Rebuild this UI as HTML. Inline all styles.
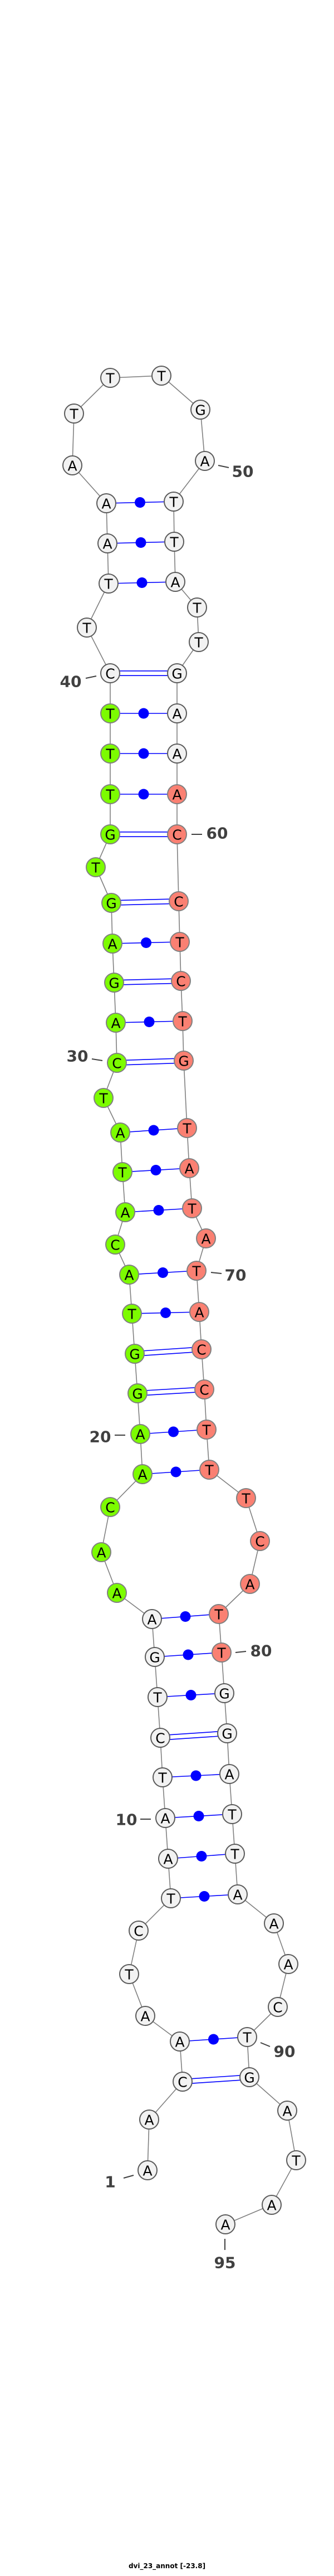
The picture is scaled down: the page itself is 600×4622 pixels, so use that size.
<!DOCTYPE html>
<html><head><meta charset="utf-8"><style>
html,body{margin:0;padding:0;background:#fff}
svg{display:block}
.bb{stroke:#808080;stroke-width:1.6;fill:none}
.bp{stroke:#0000ff;stroke-width:1.6;fill:none}
.n text{font-family:"DejaVu Sans","Liberation Sans",sans-serif;font-size:25px;text-anchor:middle;dominant-baseline:central;fill:#000}
.lab{font-family:"DejaVu Sans","Liberation Sans",sans-serif;font-weight:bold;font-size:28px;fill:#404040;text-anchor:middle;dominant-baseline:central}
.tk{stroke:#404040;stroke-width:2}
</style></head><body>
<svg id="s" width="600" height="4622" viewBox="0 0 600 4622" xmlns="http://www.w3.org/2000/svg">
<g id="bbg"></g><g id="bpg"></g><g id="ng" class="n"></g>
<g>
<line class="tk" x1="222" y1="3908" x2="240" y2="3903"/><text class="lab" x="198" y="3915">1</text>
<line class="tk" x1="252" y1="3264" x2="271" y2="3264"/><text class="lab" x="227" y="3265">10</text>
<line class="tk" x1="206" y1="2575" x2="225" y2="2575"/><text class="lab" x="180" y="2578">20</text>
<line class="tk" x1="165" y1="1900" x2="184" y2="1903"/><text class="lab" x="139" y="1895">30</text>
<line class="tk" x1="154" y1="1217" x2="173" y2="1213"/><text class="lab" x="127" y="1223">40</text>
<line class="tk" x1="392" y1="835" x2="411" y2="839"/><text class="lab" x="436" y="846">50</text>
<line class="tk" x1="344" y1="1497" x2="363" y2="1497"/><text class="lab" x="390" y="1495">60</text>
<line class="tk" x1="379" y1="2283" x2="398" y2="2285"/><text class="lab" x="423" y="2288">70</text>
<line class="tk" x1="423" y1="2965" x2="442" y2="2963"/><text class="lab" x="469" y="2962">80</text>
<line class="tk" x1="468" y1="3665" x2="485" y2="3672"/><text class="lab" x="511" y="3681">90</text>
<line class="tk" x1="404" y1="4017" x2="404" y2="4037"/><text class="lab" x="404" y="4060">95</text>
<text x="300" y="4604" style="font-family:'DejaVu Sans','Liberation Sans',sans-serif;font-weight:bold;font-size:12px;text-anchor:middle;dominant-baseline:central;fill:#000">dvi_23_annot [-23.8]</text>
</g>
</svg>
<script>
var N=[["A",265,3894],["A",268,3803],["C",328,3735],["A",323,3663],["A",261,3617],["T",232,3542],["C",249,3464],["T",307,3406],["A",302,3335],["A",297,3262],
["T",292,3189],["C",288,3118],["T",283,3045],["G",278,2973],["A",273,2905],["A",210,2858],["A",182,2785],["C",198,2704],["A",256,2645],["A",252,2573],
["G",247,2500],["G",242,2429],["T",237,2357],["A",232,2287],["C",207,2233],["A",225,2175],["T",220,2103],["A",216,2032],["T",186,1970],["C",210,1907],
["A",208,1835],["G",205,1763],["A",202,1693],["G",200,1620],["T",172,1556],["G",198,1497],["T",198,1425],["T",198,1352],["T",198,1280],["C",198,1208],
["T",156,1126],["T",195,1047],["A",193,975],["A",191,903],["A",130,835],["T",133,742],["T",198,678],["T",290,674],["G",360,735],["A",368,827],
["T",312,900],["T",313,972],["A",315,1044],["T",354,1090],["T",357,1152],["G",318,1208],["A",318,1280],["A",318,1352],["A",318,1425],["C",318,1497],
["C",321,1617],["T",323,1690],["C",325,1760],["T",328,1832],["G",330,1903],["T",336,2024],["A",340,2096],["T",345,2168],["A",370,2222],["T",353,2280],
["A",358,2354],["C",362,2421],["C",367,2493],["T",371,2565],["T",376,2637],["T",442,2688],["C",467,2765],["A",449,2842],["T",393,2896],["T",398,2965],
["G",403,3038],["G",408,3110],["A",412,3183],["T",417,3255],["T",422,3326],["A",427,3399],["A",492,3451],["A",518,3524],["C",499,3601],["T",444,3655],
["G",448,3727],["A",516,3787],["T",532,3876],["A",488,3956],["A",405,3991]];
var P=[[3,91],[4,90],[8,86],[9,85],[10,84],[11,83],[12,82],[13,81],[14,80],[15,79],[19,75],[20,74],[21,73],[22,72],[23,71],[24,70],[26,68],[27,67],[28,66],[30,65],[31,64],[32,63],[33,62],[34,61],[36,60],[37,59],[38,58],[39,57],[40,56],[42,53],[43,52],[44,51]];
var ns="http://www.w3.org/2000/svg",h="";
for(var i=0;i<N.length-1;i++)h+='<line class="bb" x1="'+N[i][1]+'" y1="'+N[i][2]+'" x2="'+N[i+1][1]+'" y2="'+N[i+1][2]+'"/>';
document.getElementById("bbg").innerHTML=h;h="";
P.forEach(function(p){var a=N[p[0]-1],b=N[p[1]-1];var gc=(a[0]+b[0]=="GC"||a[0]+b[0]=="CG");
if(gc){var dx=b[1]-a[1],dy=b[2]-a[2],L=Math.sqrt(dx*dx+dy*dy),ox=-dy/L*4.2,oy=dx/L*4.2;
h+='<line class="bp" x1="'+(a[1]+ox)+'" y1="'+(a[2]+oy)+'" x2="'+(b[1]+ox)+'" y2="'+(b[2]+oy)+'"/>';
h+='<line class="bp" x1="'+(a[1]-ox)+'" y1="'+(a[2]-oy)+'" x2="'+(b[1]-ox)+'" y2="'+(b[2]-oy)+'"/>';}
else{h+='<line class="bp" x1="'+a[1]+'" y1="'+a[2]+'" x2="'+b[1]+'" y2="'+b[2]+'"/>';
h+='<circle cx="'+(a[1]+b[1])/2+'" cy="'+(a[2]+b[2])/2+'" r="9.5" fill="#0000ff"/>';}});
document.getElementById("bpg").innerHTML=h;h="";
N.forEach(function(n,i){var k=i+1,f="#f2f2f2",s="#5a5a5a";
if(k>=16&&k<=39){f="#7cfc00";s="#808080";}else if(k>=59&&k<=80){f="#fa8072";s="#808080";}
h+='<circle cx="'+n[1]+'" cy="'+n[2]+'" r="17" fill="'+f+'" stroke="'+s+'" stroke-width="2"/><text x="'+n[1]+'" y="'+(n[2]+1)+'">'+n[0]+'</text>';});
document.getElementById("ng").innerHTML=h;
</script>
</body></html>
